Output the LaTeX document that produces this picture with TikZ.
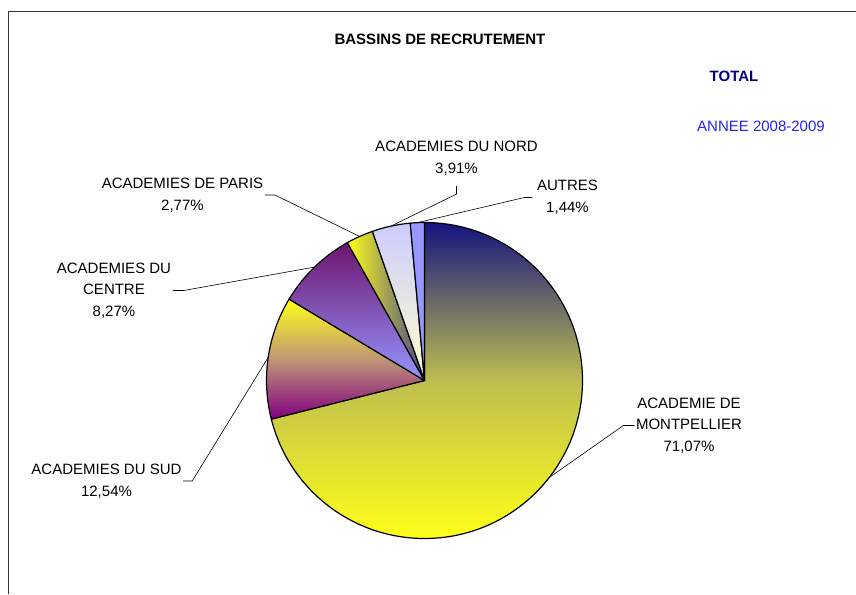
\documentclass[tikz,border=0pt]{standalone}
\usepackage{fontspec}
\setmainfont{Liberation Sans}
\usepackage{xcolor}
\usepackage{tikz}
\usetikzlibrary{positioning}

\definecolor{montTop}{RGB}{20,20,128}
\definecolor{montMid}{RGB}{190,190,80}
\definecolor{sunYellow}{RGB}{255,255,25}
\definecolor{sudMid}{RGB}{192,150,118}
\definecolor{sudBot}{RGB}{128,0,128}
\definecolor{centreTop}{RGB}{110,20,110}
\definecolor{lavBlue}{RGB}{150,150,255}
\definecolor{parisRight}{RGB}{70,70,140}
\definecolor{nordTop}{RGB}{204,204,255}
\definecolor{nordBot}{RGB}{255,255,204}
\definecolor{titleNavy}{RGB}{0,0,128}
\definecolor{yearBlue}{RGB}{35,35,255}

\begin{document}
\begin{tikzpicture}[x=1pt, y=1pt,
          lbl/.style={align=center, inner sep=1.5pt, font=\fontsize{15}{21.7}\selectfont},
          slice/.style={draw=black, line width=1.2pt, line join=round},
          lead/.style={draw=black, line width=0.6pt},
          s-mont/.style={top color=montTop, bottom color=sunYellow, middle color=montMid},
          s-sud/.style={top color=sunYellow, bottom color=sudBot, middle color=sudMid},
          s-centre/.style={top color=centreTop, bottom color=lavBlue},
          s-paris/.style={left color=sunYellow, right color=parisRight},
          s-nord/.style={top color=nordTop, bottom color=nordBot},
          s-autres/.style={fill=lavBlue},
        ]
    \useasboundingbox (0,0) rectangle (856,-594);
    \draw[line width=1pt, black!80] (8.5,-594) -- (8.5,-12) -- (856,-12);

    \node[font=\bfseries\fontsize{15}{18}\selectfont] (title) at (440,-39) {BASSINS DE RECRUTEMENT};
    \node[font=\bfseries\fontsize{15}{18}\selectfont, text=titleNavy] (total) at (734,-76) {TOTAL};
    \node[font=\fontsize{15}{18}\selectfont, text=yearBlue] (annee) at (761,-126.7) {ANNEE 2008-2009};

    % pie slices, clockwise from the top
    \coordinate (c) at (424.5,-380.5);
    \foreach \a/\b/\n in {90/-165.852/mont, -165.852/-210.996/sud, -210.996/-240.768/centre,
                          -240.768/-250.740/paris, -250.740/-264.816/nord, -264.816/-270/autres} {
        \draw[slice, s-\n] (c) -- ++(\a:158) arc[start angle=\a, end angle=\b, radius=158] -- cycle;
        \path (c) ++({(\a+\b)/2}:158) coordinate (p-\n);
    }

    \node[lbl] (paris) at (182.5,-195) {ACADEMIES DE PARIS\\2,77\%};
    \node[lbl] (nord) at (456.5,-158.3) {ACADEMIES DU NORD\\3,91\%};
    \node[lbl] (autres) at (567.5,-197.5) {AUTRES\\1,44\%};
    \node[lbl] (centre) at (114,-290.5) {ACADEMIES DU\\CENTRE\\8,27\%};
    \node[lbl] (sud) at (106.5,-481) {ACADEMIES DU SUD\\12,54\%};
    \node[lbl] (mont) at (689,-425.5) {ACADEMIE DE\\MONTPELLIER\\71,07\%};

    \draw[lead] (paris.east) -- ++(10,0) -- (p-paris);
    \draw[lead] (centre.east) -- ++(11,0) -- (p-centre);
    \draw[lead] (sud.east) -- ++(9,0) -- (p-sud);
    \draw[lead] ([yshift=-9pt]nord.south) -- ++(0,-8) -- (p-nord);
    \draw[lead] ([xshift=-3pt]autres.west) -- ++(-8,0) -- (p-autres);
    \draw[lead] (mont.west) -- ++(-11,0) -- (p-mont);
\end{tikzpicture}
\end{document}
